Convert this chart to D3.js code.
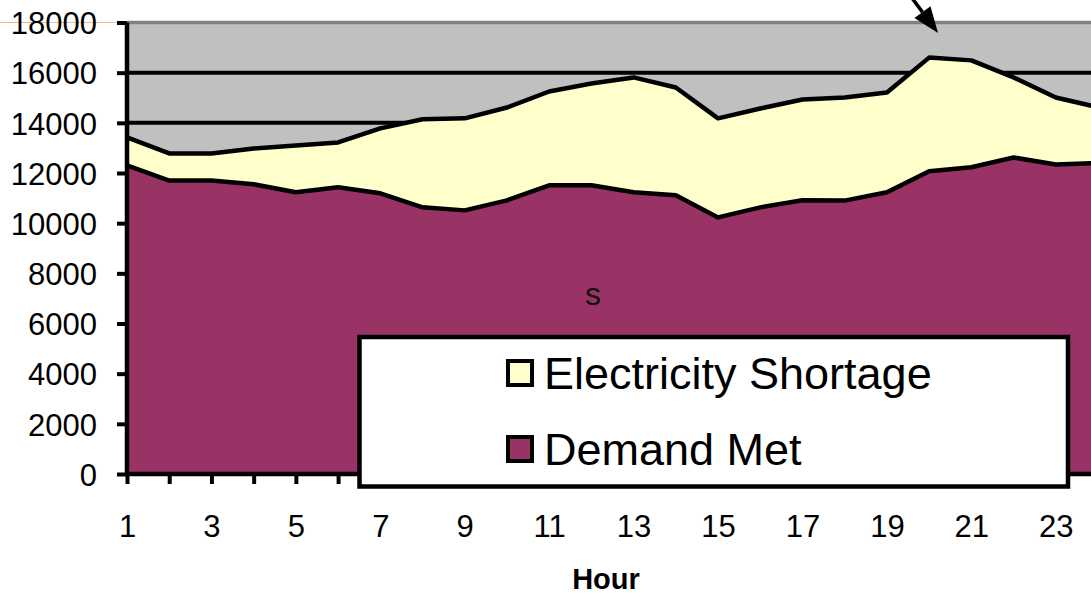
<!DOCTYPE html>
<html>
<head>
<meta charset="utf-8">
<script src="https://cdn.jsdelivr.net/npm/d3@7"></script>
<style>
  html, body { margin: 0; padding: 0; background: #fff; }
  svg { display: block; font-family: "Liberation Sans", Arial, sans-serif; }
</style>
</head>
<body>
<svg id="chart" width="1091" height="596"></svg>
<script>
// ---- data ----
const hours = [1,2,3,4,5,6,7,8,9,10,11,12,13,14,15,16,17,18,19,20,21,22,23,24];
const demandMet = [12300,11700,11700,11550,11230,11430,11190,10630,10510,10910,11510,11510,
                   11230,11110,10230,10630,10910,10900,11230,12070,12230,12620,12340,12400];
const shortage  = [1120,1080,1080,1430,1870,1790,2590,3510,3670,3700,3740,4060,
                   4580,4300,3950,3940,4020,4110,3980,4530,4260,3190,2670,2220];
const yTicks = [0,2000,4000,6000,8000,10000,12000,14000,16000,18000];
const xLabelHours = [1,3,5,7,9,11,13,15,17,19,21,23];
const seriesNames = ["Electricity Shortage", "Demand Met"];
const seriesColors = ["#FFFFCC", "#993366"];
const xTitle = "Hour";
const stray = "s";

const svg = d3.select("#chart");
const x = d3.scaleLinear().domain([1, 24]).range([127, 1098]);
const y = d3.scaleLinear().domain([0, 18000]).range([474, 22.5]);

const rows = hours.map((h, i) => ({ h, demand: demandMet[i], shortage: shortage[i] }));
const stack = d3.stack().keys(["demand", "shortage"])(rows);

// stray orange line
svg.append("line").attr("x1", 0).attr("x2", 118).attr("y1", y(18000)).attr("y2", y(18000))
  .attr("stroke", "#F6B67E").attr("stroke-width", 1);

// plot background
svg.append("rect").attr("x", x(1)).attr("y", y(18000)).attr("width", x(24) - x(1))
  .attr("height", y(0) - y(18000)).attr("fill", "#C0C0C0");

// gridlines
svg.append("g").selectAll("line").data(yTicks.filter(d => d > 0 && d < 18000)).join("line")
  .attr("x1", x(1)).attr("x2", x(24)).attr("y1", d => y(d)).attr("y2", d => y(d))
  .attr("stroke", "#000").attr("stroke-width", 4);
svg.append("line").attr("x1", x(1)).attr("x2", x(24)).attr("y1", y(18000)).attr("y2", y(18000))
  .attr("stroke", "#808080").attr("stroke-width", 3.5);

// areas
const area = d3.area().x(d => x(d.data.h)).y0(d => y(d[0])).y1(d => y(d[1]));
const topLine = d3.line().x(d => x(d.data.h)).y(d => y(d[1]));
const colorsByKey = { demand: seriesColors[1], shortage: seriesColors[0] };
stack.slice().reverse().forEach(s => {
  svg.append("path").datum(s).attr("d", area).attr("fill", colorsByKey[s.key]);
});
stack.forEach(s => {
  svg.append("path").datum(s).attr("d", topLine).attr("fill", "none")
    .attr("stroke", "#000").attr("stroke-width", 4.5).attr("stroke-linejoin", "round");
});

// axes
const yAxis = svg.append("g").attr("transform", `translate(${x(1)},0)`)
  .call(d3.axisLeft(y).tickValues(yTicks).tickSize(10).tickPadding(20).tickFormat(d3.format("d")));
yAxis.select(".domain").attr("stroke", "#000").attr("stroke-width", 4.5)
  .attr("d", `M0,${y(18000)}V${y(0) + 2}`);
yAxis.selectAll(".tick line").attr("stroke", "#000").attr("stroke-width", 4);
yAxis.selectAll(".tick text").attr("font-size", 31).attr("fill", "#000").attr("dy", "0.36em");

const xAxis = svg.append("g").attr("transform", `translate(0,${y(0)})`)
  .call(d3.axisBottom(x).tickValues(hours).tickSize(10).tickPadding(53)
    .tickFormat(d => xLabelHours.includes(d) ? d : ""));
xAxis.select(".domain").attr("stroke", "#000").attr("stroke-width", 4.5)
  .attr("d", `M${x(1) - 2},0H${x(24)}`);
xAxis.selectAll(".tick line").attr("stroke", "#000").attr("stroke-width", 4);
xAxis.selectAll(".tick text").attr("font-size", 31).attr("fill", "#000").attr("dy", "0");

// axis title
svg.append("text").attr("x", 606).attr("y", 589).attr("text-anchor", "middle")
  .attr("font-size", 29).attr("font-weight", "bold").text(xTitle);

// stray text
svg.append("text").attr("x", 593).attr("y", 305).attr("text-anchor", "middle")
  .attr("font-size", 32).attr("fill", "#111").text(stray);

// legend
const lg = svg.append("g");
lg.append("rect").attr("x", 359.5).attr("y", 337).attr("width", 708.5).attr("height", 149.5)
  .attr("fill", "#fff").attr("stroke", "#000").attr("stroke-width", 4.5);
seriesNames.forEach((name, i) => {
  const cy = 373 + i * 76;
  lg.append("rect").attr("x", 508).attr("y", cy - 12).attr("width", 24).attr("height", 24)
    .attr("fill", seriesColors[i]).attr("stroke", "#000").attr("stroke-width", 4);
  lg.append("text").attr("x", 544).attr("y", cy + 16).attr("font-size", 45).attr("fill", "#000").text(name);
});

// arrow annotation
const tip = [938, 33], from = [906, -10];
const ang = Math.atan2(tip[1] - from[1], tip[0] - from[0]);
const hl = 26, hw = 10;
const bx = tip[0] - hl * Math.cos(ang), by = tip[1] - hl * Math.sin(ang);
svg.append("line").attr("x1", from[0]).attr("y1", from[1]).attr("x2", bx).attr("y2", by)
  .attr("stroke", "#000").attr("stroke-width", 3.5);
svg.append("path").attr("fill", "#000")
  .attr("d", `M${tip[0]},${tip[1]}L${bx + hw * Math.sin(ang)},${by - hw * Math.cos(ang)}L${bx - hw * Math.sin(ang)},${by + hw * Math.cos(ang)}Z`);
</script>
</body>
</html>
